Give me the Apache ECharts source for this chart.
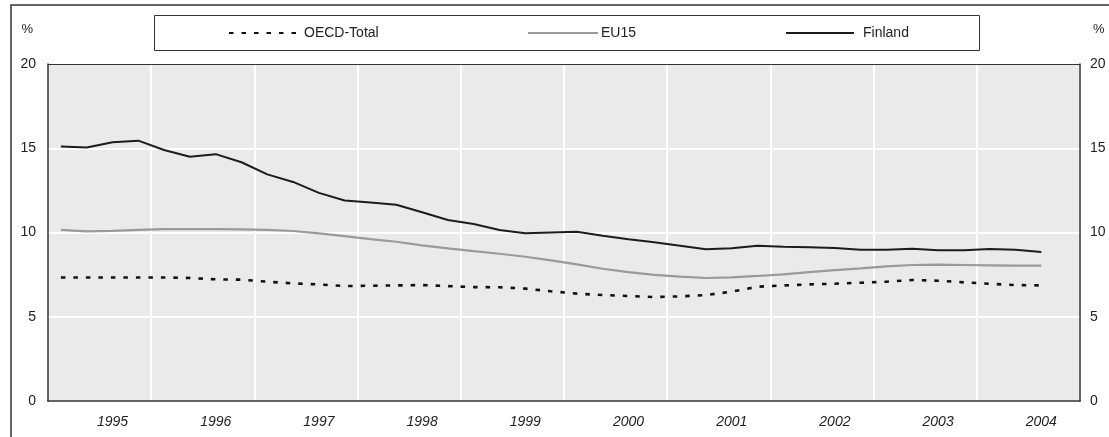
<!DOCTYPE html>
<html>
<head>
<meta charset="utf-8">
<script src="https://cdn.jsdelivr.net/npm/echarts@6/dist/echarts.min.js"></script>
<style>
html,body{margin:0;padding:0;background:#fff;}
#chart{width:1109px;height:437px;}
</style>
</head>
<body>
<div id="chart"></div>
<script>
var years = ['1995','1996','1997','1998','1999','2000','2001','2002','2003','2004'];
var quarters = ['Q1','Q2','Q3','Q4'];
var yTicks = [0, 5, 10, 15, 20];

var oecdTotal = [7.33,7.33,7.33,7.33,7.33,7.30,7.22,7.20,7.08,6.98,6.92,6.82,6.84,6.86,6.88,6.82,6.76,6.75,6.67,6.51,6.37,6.29,6.23,6.17,6.21,6.29,6.49,6.78,6.86,6.92,6.96,7.02,7.08,7.18,7.14,7.04,6.96,6.88,6.86];
var eu15 = [10.15,10.07,10.10,10.15,10.20,10.20,10.20,10.18,10.16,10.09,9.95,9.79,9.61,9.45,9.24,9.06,8.90,8.74,8.56,8.35,8.11,7.85,7.65,7.48,7.38,7.30,7.34,7.42,7.52,7.65,7.77,7.87,7.99,8.07,8.09,8.07,8.05,8.03,8.03];
var finland = [15.10,15.05,15.35,15.45,14.90,14.50,14.65,14.17,13.45,13.00,12.35,11.90,11.78,11.65,11.20,10.74,10.50,10.15,9.95,10.00,10.05,9.81,9.60,9.42,9.22,9.00,9.06,9.22,9.16,9.12,9.08,8.98,8.98,9.04,8.94,8.94,9.02,8.98,8.84];

var categories = [];
years.forEach(function (y) { quarters.forEach(function (q) { categories.push(y + ' ' + q); }); });

var FONT = '"Liberation Sans", Arial, sans-serif';
var FS = 14;
var TXT = '#222';
var BORDER = '#333';

var chart = echarts.init(document.getElementById('chart'), null, {renderer: 'canvas'});

function yAxisDef(pos) {
  var left = pos === 'left';
  return {
    type: 'value', position: pos, min: yTicks[0], max: yTicks[yTicks.length - 1], interval: 5,
    name: '%', nameLocation: 'end', nameGap: 28,
    nameTextStyle: {color: TXT, fontSize: FS - 1, fontFamily: FONT,
      align: left ? 'right' : 'left', padding: left ? [0, 15, 0, 0] : [0, 0, 0, 13]},
    axisLine: {show: true, onZero: false, lineStyle: {color: BORDER, width: 1.5}},
    axisTick: {show: false},
    axisLabel: {color: TXT, fontSize: FS, fontFamily: FONT, margin: left ? 12 : 10},
    splitLine: {show: left, lineStyle: {color: '#ffffff', width: 2}},
    z: 3
  };
}

function legendDef(name, left, w, gap) {
  return {
    data: [name], left: left, top: 26, padding: 0, itemWidth: w, itemHeight: 14, itemGap: 0,
    itemStyle: {opacity: 0, borderWidth: 0},
    textStyle: {color: TXT, fontSize: FS, fontFamily: FONT, padding: [0, 0, 0, gap]}
  };
}

chart.setOption({
  animation: false,
  backgroundColor: '#ffffff',
  graphic: [
    {type: 'polyline', z: 0, shape: {points: [[11, 460], [11, 5], [1120, 5]]},
     style: {stroke: BORDER, lineWidth: 1.5, fill: null}},
    {type: 'rect', z: 0, shape: {x: 154.5, y: 15.5, width: 825, height: 35},
     style: {stroke: BORDER, lineWidth: 1, fill: '#ffffff'}}
  ],
  legend: [
    legendDef('OECD-Total', 228, 72, -2),
    legendDef('EU15', 527, 70, -2),
    legendDef('Finland', 785, 68, 4)
  ],
  grid: {left: 48, right: 29, top: 64, bottom: 36, show: true, backgroundColor: '#e9eae9', borderWidth: 0, containLabel: false},
  xAxis: [
    {
      type: 'category', data: categories, boundaryGap: true, position: 'bottom',
      axisLine: {show: true, onZero: false, lineStyle: {color: BORDER, width: 1.5}},
      axisTick: {show: false},
      axisLabel: {
        interval: function (i) { return i % 4 === 2; },
        formatter: function (v) { return v.split(' ')[0]; },
        color: TXT, fontSize: FS, fontStyle: 'italic', fontFamily: FONT, margin: 14
      },
      splitLine: {show: true, interval: function (i) { return i % 4 === 0 && i > 0; }, lineStyle: {color: '#ffffff', width: 2}},
      z: 3
    },
    {
      type: 'category', data: categories, boundaryGap: true, position: 'top',
      axisLine: {show: true, onZero: false, lineStyle: {color: BORDER, width: 1.2}},
      axisTick: {show: false}, axisLabel: {show: false}, splitLine: {show: false},
      z: 4
    }
  ],
  yAxis: [yAxisDef('left'), yAxisDef('right')],
  series: [
    {name: 'OECD-Total', type: 'line', data: oecdTotal, symbol: 'none', z: 5,
     lineStyle: {color: '#111', width: 2.6, type: [4.5, 8], cap: 'butt'}, itemStyle: {color: '#111'}},
    {name: 'EU15', type: 'line', data: eu15, symbol: 'none', z: 5,
     lineStyle: {color: '#9a9a9a', width: 2.2}, itemStyle: {color: '#9a9a9a'}},
    {name: 'Finland', type: 'line', data: finland, symbol: 'none', z: 6,
     lineStyle: {color: '#1c1c1c', width: 2}, itemStyle: {color: '#1c1c1c'}}
  ]
});
</script>
</body>
</html>
